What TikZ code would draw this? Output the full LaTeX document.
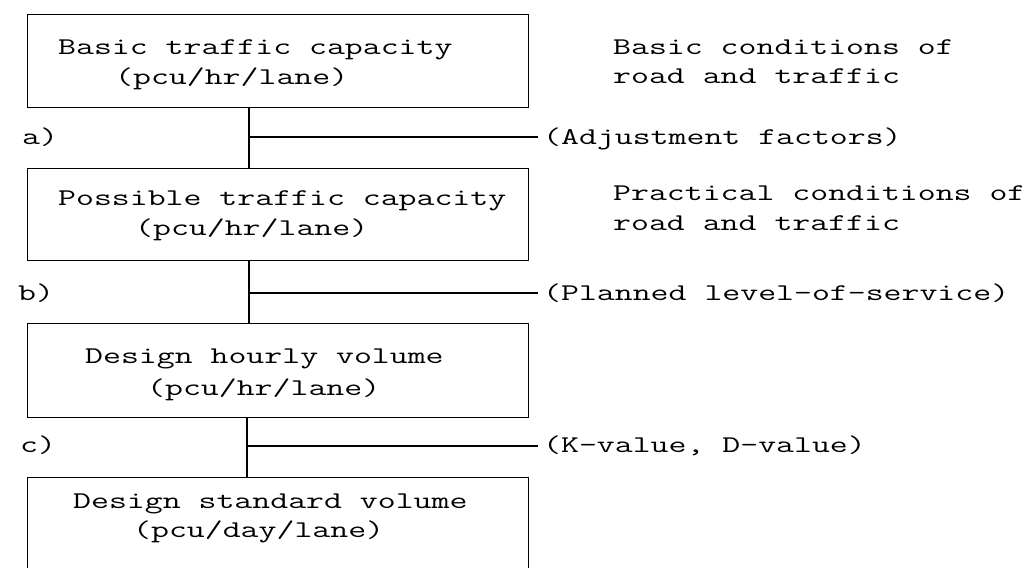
\documentclass[tikz,border=0pt]{standalone}
\usepackage{fontspec}
\setmainfont[FakeStretch=1.45]{Latin Modern Mono}
\begin{document}
\begin{tikzpicture}[x=1pt,y=-1pt,
  box/.style={draw, line width=1.4pt, minimum width=501pt, anchor=north west, inner sep=0pt},
  txt/.style={anchor=base west, inner sep=0pt, font=\fontsize{24}{30}\selectfont},
  conn/.style={line width=1.8pt},
  side/.style={line width=1.3pt}]
\clip (0,0) rectangle (1035,567);
\fill[white] (0,0) rectangle (1035,567);
% boxes
\node[box, minimum height=93pt] (b1) at (27,14) {};
\node[box, minimum height=92pt] (b2) at (27,168) {};
\node[box, minimum height=94pt] (b3) at (27,323) {};
\node[box, minimum height=140pt] (b4) at (27,477) {};
% box texts
\node[txt] (t1a) at (58,55) {Basic traffic capacity};
\node[txt] (t1b) at (115,85) {(pcu/hr/lane)};
\node[txt] (t2a) at (58,205) {Possible traffic capacity};
\node[txt] (t2b) at (135,235) {(pcu/hr/lane)};
\node[txt] (t3a) at (85,363) {Design hourly volume};
\node[txt] (t3b) at (147,395) {(pcu/hr/lane)};
\node[txt] (t4a) at (73,508) {Design standard volume};
\node[txt] (t4b) at (133,537) {(pcu/day/lane)};
% right texts
\node[txt] (r1a) at (613,55) {Basic conditions of};
\node[txt] (r1b) at (613,84) {road and traffic};
\node[txt] (adj) at (543,144) {(Adjustment factors)};
\node[txt] (r2a) at (613,200) {Practical conditions of};
\node[txt] (r2b) at (613,230) {road and traffic};
\node[txt] (pl) at (543,300) {(Planned level-of-service)};
\node[txt] (kd) at (543,452) {(K-value, D-value)};
% step labels
\node[txt] (la) at (22,144) {a)};
\node[txt] (lb) at (18,300) {b)};
\node[txt] (lc) at (20,452) {c)};
% connectors
\draw[conn] ([xshift=222pt]b1.south west) -- ([xshift=222pt]b2.north west);
\draw[conn] ([xshift=222pt]b2.south west) -- ([xshift=222pt]b3.north west);
\draw[conn] ([xshift=220pt]b3.south west) -- ([xshift=220pt]b4.north west);
\coordinate (ja) at (249,137);
\coordinate (jb) at (249,293);
\coordinate (jc) at (247,446);
\draw[side] (ja) -- ([xshift=-5pt]adj.west |- ja);
\draw[side] (jb) -- ([xshift=-5pt]pl.west |- jb);
\draw[side] (jc) -- ([xshift=-5pt]kd.west |- jc);
\end{tikzpicture}
\end{document}
